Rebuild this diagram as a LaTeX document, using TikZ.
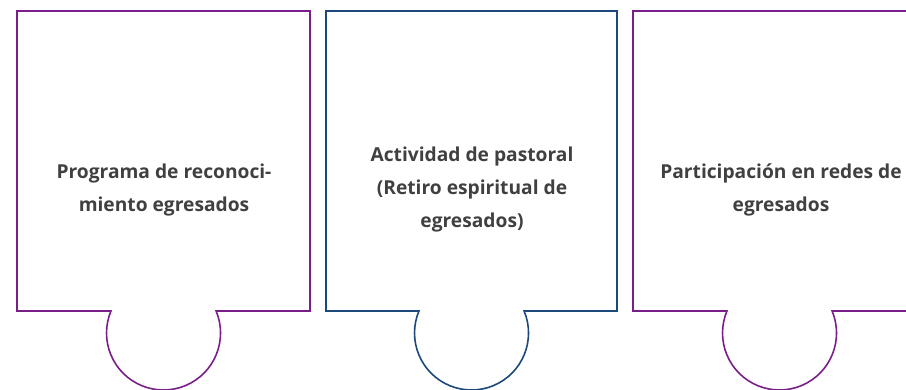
\documentclass[tikz,border=0pt]{standalone}
\usepackage{fontspec}
\setmainfont{Open Sans}
\definecolor{piecepurple}{RGB}{122,30,138}
\definecolor{pieceblue}{RGB}{28,72,122}
\definecolor{piecetext}{RGB}{64,64,64}
\begin{document}
\begin{tikzpicture}[x=1pt,y=1pt]

\tikzset{%
every piece/.style={
line width=1.6pt,
line join=miter
},
piece label/.style={
align=center,
text=piecetext,
font=\bfseries\fontsize{19.2}{33}\selectfont
},
}

\useasboundingbox (0,0) rectangle (906,390);

% Puzzle pieces: colour / left edge / right edge
\foreach \c/\l/\r [count=\i] in {piecepurple/17/310, pieceblue/326/617, piecepurple/633/926}
\draw [every piece/.try, draw=\c]
(\l,79) -- (\l,379) -- (\r,379) -- (\r,79) -- ({(\l+\r)/2+52.6},79)
arc [start angle=22.7, end angle=-202.7, radius=57] -- cycle;

% Labels of the pieces
\node [piece label] (piece-1) at (164,200) {Programa de reconoci-\\miento egresados};
\node [piece label] (piece-2) at (472,200) {Actividad de pastoral\\(Retiro espiritual de\\egresados)};
\node [piece label] (piece-3) at (781,200) {Participación en redes de\\egresados};

\end{tikzpicture}
\end{document}
